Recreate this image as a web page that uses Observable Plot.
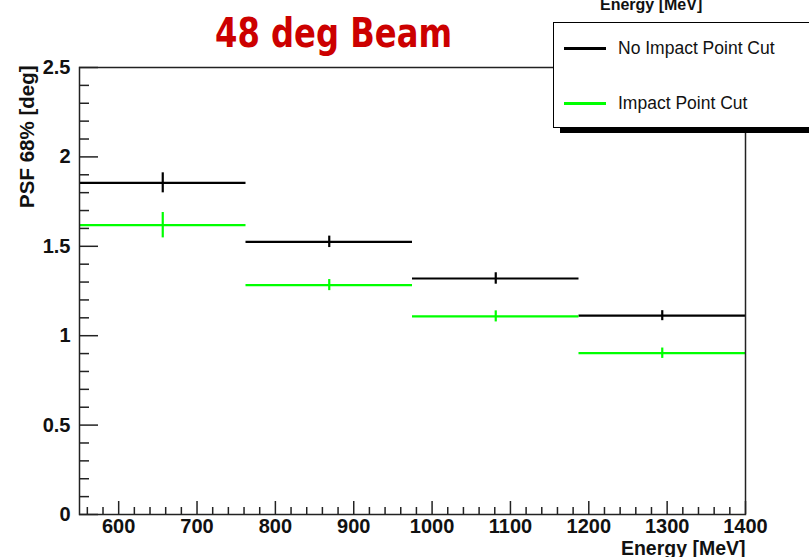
<!DOCTYPE html>
<html>
<head>
<meta charset="utf-8">
<script src="https://cdn.jsdelivr.net/npm/d3@7"></script>
<script src="https://cdn.jsdelivr.net/npm/@observablehq/plot@0.6"></script>
<style>
  html, body { margin: 0; padding: 0; background: #fff; }
  #wrap { position: relative; width: 809px; height: 557px; overflow: hidden; font-family: "Liberation Sans", Arial, sans-serif; }
  #chart { position: absolute; left: 0; top: 0; }
  .title { position: absolute; left: 0; top: 0; }
  .legend { position: absolute; left: 553px; top: 22px; width: 270px; height: 104px; background: #fff; border: 1.5px solid #000; box-shadow: 7px 5px 0 0 #000; }
  .entry { position: absolute; left: 10px; font-size: 17.5px; color: #111; display: flex; align-items: center; }
  .entry .sw { width: 42px; height: 2.5px; margin-right: 12px; }
  .toplabel { position: absolute; left: 600px; top: -3px; line-height: 1; font-weight: bold; font-size: 16px; color: #111; }
</style>
</head>
<body>
<div id="wrap">
  <div id="chart"></div>
</div>
<script>
// ---- data ----
const binEdges = [550, 762.5, 975, 1187.5, 1400];
const noCut    = [1.855, 1.525, 1.320, 1.112];
const noCutErr = [0.056, 0.032, 0.032, 0.028];
const ipCut    = [1.618, 1.283, 1.108, 0.902];
const ipCutErr = [0.071, 0.031, 0.031, 0.029];
const seriesNames = ["No Impact Point Cut", "Impact Point Cut"];
const seriesColors = ["#000000", "#00ff00"];
const xMajor = [600, 700, 800, 900, 1000, 1100, 1200, 1300, 1400];
const xMinor = d3.range(560, 1401, 20).filter(v => v % 100 !== 0);
const yMajor = [0, 0.5, 1, 1.5, 2, 2.5];
const yMinor = d3.range(0, 26).map(i => i / 10).filter(v => Math.round(v * 10) % 5 !== 0);
const titleText = "48 deg Beam";
const xTitle = "Energy [MeV]";
const yTitle = "PSF 68% [deg]";

// ---- build rows ----
const rows = [];
[noCut, ipCut].forEach((vals, s) => {
  const errs = s === 0 ? noCutErr : ipCutErr;
  vals.forEach((v, i) => rows.push({
    series: seriesNames[s], color: seriesColors[s],
    lo: binEdges[i], hi: binEdges[i + 1], mid: (binEdges[i] + binEdges[i + 1]) / 2,
    v, e: errs[i]
  }));
});

const W = 809, H = 557, mL = 79, mR = 64, mT = 67, mB = 43;
const fw = W - mL - mR, fh = H - mT - mB;

const chart = Plot.plot({
  width: W, height: H,
  marginLeft: mL, marginRight: mR, marginTop: mT, marginBottom: mB,
  style: { fontFamily: "Liberation Sans, Arial, sans-serif", background: "#fff", color: "#111" },
  x: { domain: [550, 1400] },
  y: { domain: [0, 2.5] },
  marks: [
    // ticks drawn inward
    Plot.tickX(xMajor, { x: d => d, insetTop: fh - 13, stroke: "#222", strokeWidth: 1.5 }),
    Plot.tickX(xMinor, { x: d => d, insetTop: fh - 7, stroke: "#222", strokeWidth: 1.5 }),
    Plot.tickY(yMajor, { y: d => d, insetRight: fw - 19, stroke: "#222", strokeWidth: 1.5 }),
    Plot.tickY(yMinor, { y: d => d, insetRight: fw - 10, stroke: "#222", strokeWidth: 1.5 }),
    Plot.axisX({ ticks: xMajor, tickSize: 0, tickPadding: 4, label: null, fontSize: 20, fontWeight: "bold", tickFormat: d => String(d) }),
    Plot.axisY({ ticks: yMajor, tickSize: 0, tickPadding: 9, label: null, fontSize: 20, fontWeight: "bold", tickFormat: d => String(d) }),
    // histogram bins
    Plot.ruleY(rows, { x1: "lo", x2: "hi", y: "v", stroke: "color", strokeWidth: 2.2 }),
    // error bars
    Plot.ruleX(rows, { x: "mid", y1: d => d.v - d.e, y2: d => d.v + d.e, stroke: "color", strokeWidth: 2.2 }),
    Plot.frame({ stroke: "#222", strokeWidth: 1.5 }),
    Plot.text([xTitle], { frameAnchor: "bottom-right", textAnchor: "end", lineAnchor: "bottom", dy: 40, fontSize: 19.5, fontWeight: "bold", fill: "#111" }),
    Plot.text([yTitle], { frameAnchor: "top-left", textAnchor: "end", lineAnchor: "middle", rotate: -90, dx: -52, dy: -2, fontSize: 20.5, fontWeight: "bold", fill: "#111" })
  ]
});
document.getElementById("chart").appendChild(chart);

const wrap = document.getElementById("wrap");
// top clipped label (from another pad)
const tl = document.createElement("div");
tl.className = "toplabel"; tl.textContent = xTitle; wrap.appendChild(tl);

// legend
const leg = document.createElement("div");
leg.className = "legend";
seriesNames.forEach((name, i) => {
  const e = document.createElement("div");
  e.className = "entry";
  e.style.top = (i === 0 ? 15 : 70) + "px";
  const sw = document.createElement("span");
  sw.className = "sw"; sw.style.background = seriesColors[i];
  const t = document.createElement("span"); t.textContent = name;
  e.appendChild(sw); e.appendChild(t); leg.appendChild(e);
});
wrap.appendChild(leg);

// title
const ns = "http://www.w3.org/2000/svg";
const ts = document.createElementNS(ns, "svg");
ts.setAttribute("class", "title"); ts.setAttribute("width", 809); ts.setAttribute("height", 60);
const tt = document.createElementNS(ns, "text");
tt.setAttribute("x", 215); tt.setAttribute("y", 47);
tt.setAttribute("textLength", 237); tt.setAttribute("lengthAdjust", "spacingAndGlyphs");
tt.setAttribute("font-family", "DejaVu Sans, sans-serif");
tt.setAttribute("font-weight", "bold"); tt.setAttribute("font-size", 40);
tt.setAttribute("fill", "#cc0000");
tt.textContent = titleText;
ts.appendChild(tt); wrap.appendChild(ts);
</script>
</body>
</html>
